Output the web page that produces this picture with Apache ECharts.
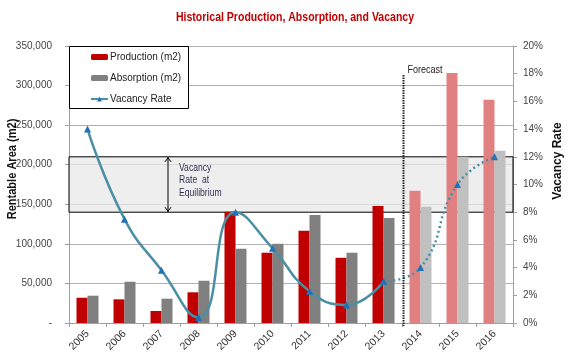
<!DOCTYPE html>
<html><head><meta charset="utf-8">
<script src="https://cdn.jsdelivr.net/npm/echarts/dist/echarts.min.js"></script>
<style>html,body{margin:0;padding:0;background:#fff}#c{width:570px;height:360px}</style>
</head><body><div id="c"></div>
<script>
// ---- data ----
const years = ['2005','2006','2007','2008','2009','2010','2011','2012','2013','2014','2015','2016'];
const production = [31900, 29900, 15200, 38800, 140500, 88800, 116500, 82400, 147700, 167000, 316000, 282000];
const absorption = [34500, 52100, 30700, 53400, 93800, 100100, 136400, 88800, 132600, 146900, 210000, 217600];
const vacancyRate = [14.0, 7.5, 3.8, 0.4, 8.0, 5.4, 2.3, 1.3, 3.0, 4.0, 10.0, 12.0];
const forecastStartIndex = 9;          // first forecast year (2014)
const equilibriumBand = [8, 12];       // vacancy rate % at equilibrium
const leftAxis = {min: 0, max: 350000, interval: 50000};
const rightAxis = {min: 0, max: 20, interval: 2};

const FONT = '"Liberation Sans", Arial, sans-serif';
const chart = echarts.init(document.getElementById('c'), null, {renderer: 'canvas'});

const prodData = production.map((v, i) => ({value: v, itemStyle: {color: i >= forecastStartIndex ? '#e08080' : '#c00000'}}));
const absData = absorption.map((v, i) => ({value: v, itemStyle: {color: i >= forecastStartIndex ? '#c0c0c0' : '#808080'}}));
const vacActual = vacancyRate.map((v, i) => i < forecastStartIndex ? v : null);
const vacForecast = vacancyRate.map((v, i) => i >= forecastStartIndex - 1 ? v : null);

const option = {
  animation: false,
  backgroundColor: '#fff',
  textStyle: {fontFamily: FONT},
  grid: {left: 69, right: 57, top: 46, bottom: 37},
  legend: {
    show: true, orient: 'vertical', left: 90, top: 51, padding: 0, itemGap: 9,
    itemWidth: 17, itemHeight: 6, z: 10,
    data: ['Production (m2)', 'Absorption (m2)', 'Vacancy Rate'],
    textStyle: {fontSize: 10, color: '#222', fontFamily: FONT, lineHeight: 12, padding: [0,0,0,-3]}
  },
  xAxis: {
    type: 'category', data: years, boundaryGap: true,
    axisLine: {show: true, lineStyle: {color: '#a0a0a0'}},
    axisTick: {show: true, alignWithLabel: false, length: 4, lineStyle: {color: '#a0a0a0'}},
    axisLabel: {rotate: 45, fontSize: 10.5, color: '#333', fontFamily: FONT, margin: 9, interval: 0},
    splitLine: {show: false}
  },
  yAxis: [{
    type: 'value', min: leftAxis.min, max: leftAxis.max, interval: leftAxis.interval,
    axisLine: {show: true, lineStyle: {color: '#a0a0a0'}},
    axisTick: {show: true, length: 4, lineStyle: {color: '#a0a0a0'}},
    axisLabel: {fontSize: 10, color: '#444', fontFamily: FONT, margin: 17,
      formatter: v => v === 0 ? '-' : v.toLocaleString('en-US')},
    splitLine: {show: true, lineStyle: {color: '#b0b0b0'}}
  }, {
    type: 'value', min: rightAxis.min, max: rightAxis.max, interval: rightAxis.interval,
    position: 'right',
    axisLine: {show: true, lineStyle: {color: '#a0a0a0'}},
    axisTick: {show: true, length: 4, lineStyle: {color: '#a0a0a0'}},
    axisLabel: {fontSize: 10, color: '#444', fontFamily: FONT, margin: 10, formatter: '{value}%'},
    splitLine: {show: false}
  }],
  series: [{
    name: 'Production (m2)', type: 'bar', data: prodData, barWidth: 11, barGap: '0%',
    itemStyle: {color: '#c00000'}, z: 2
  }, {
    name: 'Absorption (m2)', type: 'bar', data: absData, barWidth: 11, barGap: '0%',
    itemStyle: {color: '#808080'}, z: 2
  }, {
    name: 'Vacancy Rate', type: 'line', yAxisIndex: 1, data: vacActual, smooth: 0.5,
    lineStyle: {color: '#4a8fa3', width: 2.5}, itemStyle: {color: '#1f72b8'},
    symbol: 'triangle', symbolSize: 7, showSymbol: true, connectNulls: false, z: 3
  }, {
    name: 'Vacancy Forecast', type: 'line', yAxisIndex: 1, data: vacForecast, smooth: 0.5,
    lineStyle: {color: '#4a8fa3', width: 2.5, type: [2, 3]}, itemStyle: {color: '#1f72b8'},
    symbol: 'triangle', symbolSize: 7, showSymbol: true, z: 3
  }, {
    name: 'band', type: 'line', yAxisIndex: 1, data: [], z: 5, silent: true,
    markArea: {
      silent: true,
      itemStyle: {color: 'rgba(232,232,232,0.72)', borderColor: '#000', borderWidth: 1},
      data: [[{yAxis: equilibriumBand[0]}, {yAxis: equilibriumBand[1]}]]
    }
  }]
};
chart.setOption(option);

// annotations positioned from the axes' scales
const yHi = chart.convertToPixel({yAxisIndex: 1}, equilibriumBand[1]);
const yLo = chart.convertToPixel({yAxisIndex: 1}, equilibriumBand[0]);
const x13 = chart.convertToPixel({xAxisIndex: 0}, '2013');
const x14 = chart.convertToPixel({xAxisIndex: 0}, '2014');
const xF = (x13 + x14) / 2 + 1.5;
const yBase = chart.convertToPixel({yAxisIndex: 0}, 0);
const ax = 168;

chart.setOption({
  graphic: [
    {type: 'text', z: 20, x: 295, y: 17, scaleX: 0.81, style: {text: 'Historical Production, Absorption, and Vacancy', fill: '#c00000', fontSize: 13, fontWeight: 'bold', fontFamily: FONT, align: 'center', verticalAlign: 'middle'}},
    {type: 'rect', z: 8, shape: {x: 69.5, y: 46.5, width: 119, height: 62}, style: {fill: '#fff', stroke: '#000', lineWidth: 1}},
    {type: 'line', z: 20, shape: {x1: ax, y1: yHi, x2: ax, y2: yLo}, style: {stroke: '#000', lineWidth: 1}},
    {type: 'polyline', z: 20, shape: {points: [[ax-3, yHi+5], [ax, yHi+1], [ax+3, yHi+5]]}, style: {stroke: '#000', lineWidth: 1, fill: null}},
    {type: 'polyline', z: 20, shape: {points: [[ax-3, yLo-5], [ax, yLo-1], [ax+3, yLo-5]]}, style: {stroke: '#000', lineWidth: 1, fill: null}},
    {type: 'text', z: 20, x: 179, y: yHi + 5, scaleX: 0.82, style: {text: 'Vacancy\nRate  at\nEquilibrium', fill: '#333355', fontSize: 10.5, lineHeight: 12.5, fontFamily: FONT}},
    {type: 'line', z: 20, shape: {x1: xF, y1: 75, x2: xF, y2: yBase + 3}, style: {stroke: '#222', lineWidth: 2, lineDash: [1.5, 1]}},
    {type: 'text', z: 20, x: xF + 4, y: 64, scaleX: 0.82, style: {text: 'Forecast', fill: '#222', fontSize: 11, fontFamily: FONT}},
    {type: 'text', z: 20, x: 13, y: 169, rotation: Math.PI / 2, scaleX: 0.92, style: {text: 'Rentable Area (m2)', fill: '#111', fontSize: 12, fontWeight: 'bold', fontFamily: FONT, align: 'center', verticalAlign: 'middle'}},
    {type: 'text', z: 20, x: 558, y: 161, rotation: Math.PI / 2, style: {text: 'Vacancy Rate', fill: '#111', fontSize: 12, fontWeight: 'bold', fontFamily: FONT, align: 'center', verticalAlign: 'middle'}}
  ]
});
</script></body></html>
